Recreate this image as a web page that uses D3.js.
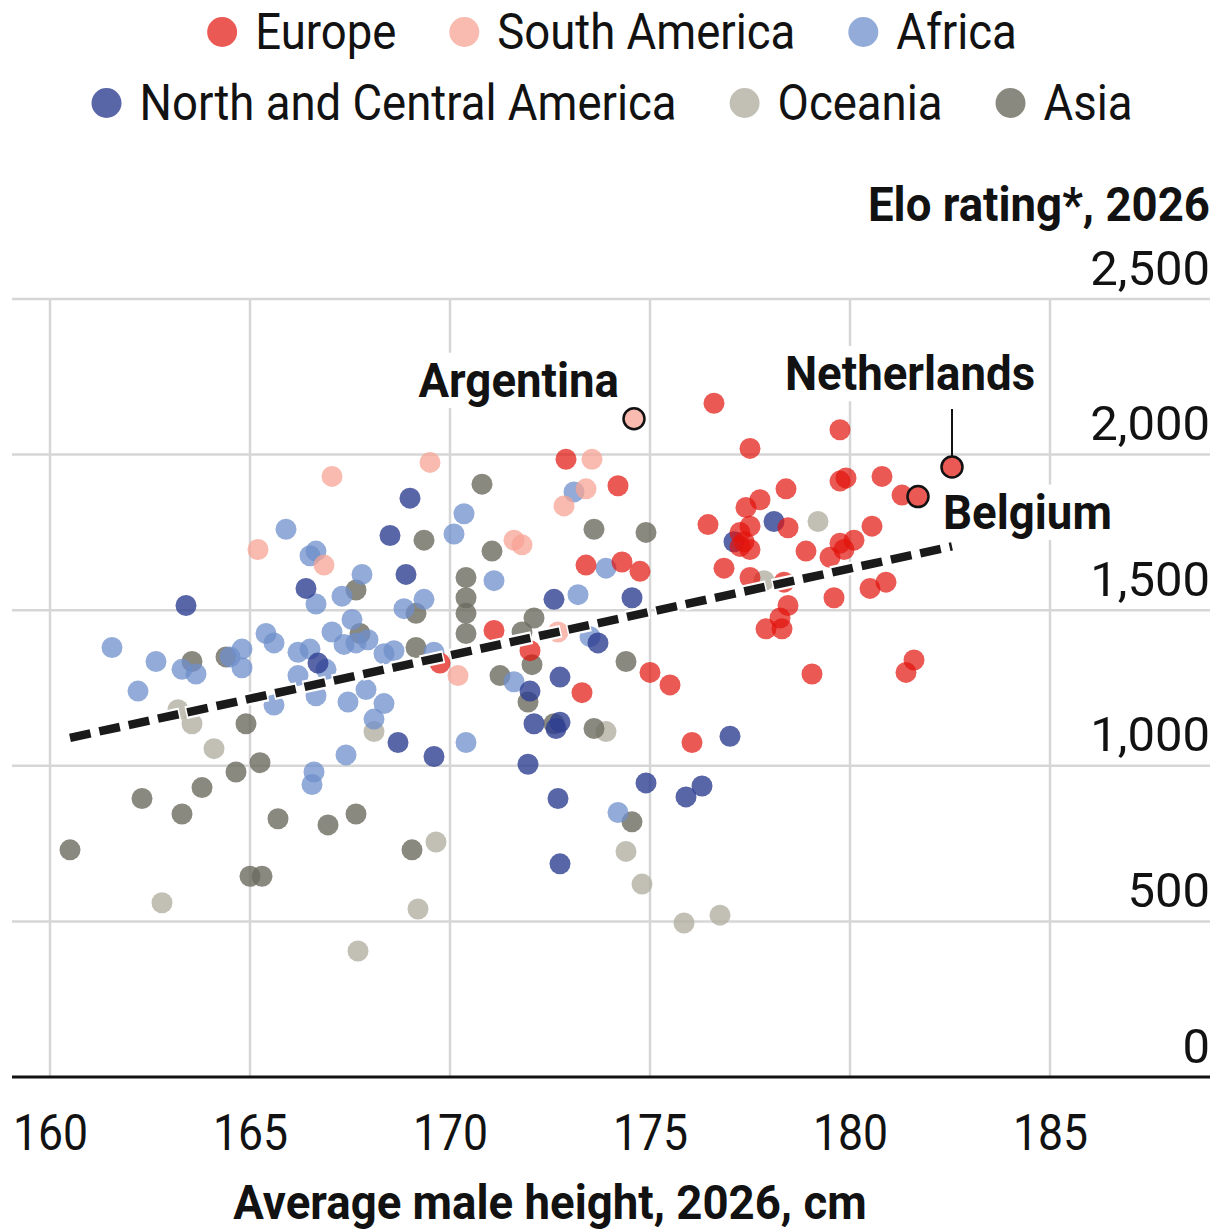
<!DOCTYPE html>
<html>
<head>
<meta charset="utf-8">
<script src="https://cdn.jsdelivr.net/npm/d3@7"></script>
<style>
body { margin: 0; background: #fff; }
text { font-family: Roboto, sans-serif; fill: #121212; }
</style>
</head>
<body>
<div id="chart"></div>
<script>
const width = 1225
const height = 1230
// squeeze Roboto so it reads like a condensed face
const SX = 0.91    // regular text
const SXB = 0.95   // bold text
const SXN = 1.0    // y tick numbers

const continents = ['Europe', 'South America', 'Africa', 'North and Central America', 'Oceania', 'Asia']
const colours = ['#e3120b', '#f7a394', '#6f8fcb', '#2e3f91', '#b3b0a2', '#6b6b5f']
const opacities = [0.7, 0.75, 0.75, 0.8, 0.8, 0.8]

// [average male height cm, Elo rating]
const europe = [[176.6,2165],[177.5,2020],[172.9,1985],[174.2,1900],[178.4,1890],[177.75,1855],[177.4,1830],[176.45,1775],[178.45,1765],[177.25,1750],[177.5,1770],[177.35,1720],[177.5,1695],[177.25,1705],[178.9,1690],[176.85,1635],[177.5,1605],[178.35,1590],[178.45,1515],[178.25,1475],[177.9,1440],[178.3,1440],[179.05,1295],[179.75,2080],[179.75,1915],[179.9,1925],[180.8,1930],[181.3,1870],[179.5,1670],[179.75,1715],[179.85,1695],[180.1,1725],[180.55,1770],[179.6,1540],[180.5,1570],[180.9,1590],[181.4,1300],[181.6,1340],[173.4,1645],[174.3,1655],[174.75,1625],[171.1,1435],[172.0,1370],[169.75,1330],[173.3,1235],[175.0,1300],[175.5,1260],[176.05,1075]]
const southAmerica = [[167.05,1930],[169.5,1975],[165.2,1695],[166.85,1645],[173.55,1985],[173.4,1890],[172.85,1835],[171.6,1725],[171.8,1710],[170.2,1290],[172.7,1430]]
const africa = [[165.9,1760],[166.5,1675],[166.65,1690],[167.8,1615],[166.65,1520],[167.3,1545],[168.85,1505],[169.35,1535],[167.55,1470],[167.05,1430],[167.35,1390],[167.65,1395],[167.95,1405],[165.4,1425],[165.6,1395],[161.55,1380],[162.65,1335],[163.3,1310],[163.65,1295],[164.5,1350],[164.8,1375],[164.8,1315],[166.2,1365],[166.5,1375],[168.35,1360],[168.6,1370],[166.2,1290],[166.9,1310],[169.6,1365],[170.1,1745],[170.35,1810],[162.2,1240],[166.65,1225],[165.6,1195],[167.45,1205],[167.9,1245],[168.35,1200],[168.1,1150],[170.4,1075],[167.4,1035],[166.6,980],[166.55,940],[171.1,1595],[173.1,1880],[173.9,1635],[173.2,1550],[173.5,1415],[171.6,1270],[174.2,850]]
const northCentralAmerica = [[169.0,1860],[168.5,1740],[168.9,1615],[166.4,1570],[163.4,1515],[166.7,1330],[172.6,1535],[174.55,1540],[173.7,1395],[172.0,1240],[172.75,1285],[172.1,1135],[172.75,1140],[172.65,1120],[177.0,1095],[169.6,1030],[168.7,1075],[171.95,1005],[174.9,945],[176.3,935],[175.9,900],[172.7,895],[172.75,685],[178.1,1785],[177.1,1720]]
const oceania = [[179.2,1785],[177.85,1595],[173.9,1110],[174.4,725],[174.8,620],[175.85,495],[176.75,520],[169.65,755],[169.2,540],[167.7,405],[162.8,560],[164.1,1055],[163.55,1135],[163.2,1180],[168.1,1110]]
const asia = [[170.8,1905],[171.05,1690],[169.35,1725],[167.65,1565],[169.15,1490],[169.15,1380],[167.75,1425],[170.4,1605],[170.4,1540],[170.4,1490],[170.4,1425],[163.55,1335],[164.4,1350],[173.6,1760],[174.9,1750],[172.1,1475],[171.8,1430],[172.05,1325],[174.4,1335],[171.25,1290],[171.95,1205],[172.6,1135],[173.6,1120],[174.55,820],[164.9,1135],[165.25,1010],[164.65,980],[163.8,930],[162.3,895],[163.3,845],[165.7,830],[166.95,810],[167.65,845],[169.05,730],[165.0,645],[165.3,645],[160.5,730]]

const highlights = [
    {name: 'Argentina', continent: 'South America', height: 174.6, elo: 2115},
    {name: 'Netherlands', continent: 'Europe', height: 182.55, elo: 1960},
    {name: 'Belgium', continent: 'Europe', height: 181.7, elo: 1865},
]

const trendHeights = [160.5, 182.55]
const trendElo = [1090, 1705]

const xTicks = [160, 165, 170, 175, 180, 185]
const yTicks = [0, 500, 1000, 1500, 2000, 2500]

const seriesByContinent = {
    'Europe': europe,
    'South America': southAmerica,
    'Africa': africa,
    'North and Central America': northCentralAmerica,
    'Oceania': oceania,
    'Asia': asia,
}
const drawOrder = ['Oceania', 'Asia', 'Africa', 'North and Central America', 'South America', 'Europe']

const colour = d3.scaleOrdinal().domain(continents).range(colours)
const opacity = d3.scaleOrdinal().domain(continents).range(opacities)
// the solid colour a translucent dot shows on white
const tint = name => d3.interpolateRgb('#ffffff', colour(name))(opacity(name))

const plotLeft = 12, plotRight = 1210
const x = d3.scaleLinear().domain([160, 185]).range([50, 1050])
const y = d3.scaleLinear().domain([0, 2500]).range([1077, 299])
const r = 10.5

const svg = d3.select('#chart').append('svg')
    .attr('width', width)
    .attr('height', height)

// gridlines
svg.append('g').selectAll('line')
    .data(yTicks.slice(1))
    .enter().append('line')
    .attr('x1', plotLeft).attr('x2', plotRight)
    .attr('y1', d => y(d)).attr('y2', d => y(d))
    .attr('stroke', '#d6d6d6').attr('stroke-width', 2.5)

svg.append('g').selectAll('line')
    .data(xTicks)
    .enter().append('line')
    .attr('x1', d => x(d)).attr('x2', d => x(d))
    .attr('y1', y(2500)).attr('y2', y(0))
    .attr('stroke', '#d6d6d6').attr('stroke-width', 2.5)

// y labels sit on top of the gridlines, right aligned
const yAxis = svg.append('g')
    .attr('transform', `translate(${plotRight},0)`)
    .call(d3.axisLeft(y).tickValues(yTicks).tickSize(0).tickFormat(d3.format(',')))
yAxis.select('.domain').remove()
yAxis.selectAll('text')
    .attr('x', 0).attr('y', -15).attr('dy', 0)
    .attr('transform', `scale(${SXN},1)`)
    .style('font-family', 'Roboto, sans-serif')
    .style('font-size', '49px')
    .attr('fill', '#121212')

svg.append('text')
    .attr('transform', `translate(${plotRight},221) scale(${SXB},1)`)
    .attr('text-anchor', 'end')
    .style('font-size', '48px')
    .style('font-weight', 700)
    .text('Elo rating*, 2026')

// points
drawOrder.forEach(function(name) {
    svg.append('g').selectAll('circle')
        .data(seriesByContinent[name])
        .enter().append('circle')
        .attr('cx', d => x(d[0]))
        .attr('cy', d => y(d[1]))
        .attr('r', r)
        .attr('fill', colour(name))
        .attr('fill-opacity', opacity(name))
})

// trend line, white halo under black dashes
const trend = d3.zip(trendHeights, trendElo)
const trendLine = d3.line().x(d => x(d[0])).y(d => y(d[1]))
svg.append('path')
    .attr('d', trendLine(trend))
    .attr('stroke', '#fff').attr('stroke-width', 13)
    .attr('stroke-dasharray', '24 6').attr('stroke-dashoffset', 1.5)
    .attr('fill', 'none')
svg.append('path')
    .attr('d', trendLine(trend))
    .attr('stroke', '#1a1a1a').attr('stroke-width', 8.5)
    .attr('stroke-dasharray', '21 9')
    .attr('fill', 'none')

// x axis
svg.append('line')
    .attr('x1', plotLeft).attr('x2', plotRight)
    .attr('y1', y(0)).attr('y2', y(0))
    .attr('stroke', '#121212').attr('stroke-width', 3)

const xAxis = svg.append('g')
    .attr('transform', `translate(0,${y(0)})`)
    .call(d3.axisBottom(x).tickValues(xTicks).tickSize(0))
xAxis.select('.domain').remove()
xAxis.selectAll('text')
    .attr('y', 73).attr('dy', 0)
    .attr('transform', `scale(0.89,1)`)
    .style('font-family', 'Roboto, sans-serif')
    .style('font-size', '50px')
    .attr('fill', '#121212')

svg.append('text')
    .attr('transform', `translate(550,1219) scale(${SXB},1)`)
    .attr('text-anchor', 'middle')
    .style('font-size', '48px')
    .style('font-weight', 700)
    .text('Average male height, 2026, cm')

// highlighted countries
const labelled = svg.append('g')
highlights.forEach(function(h) {
    const cx = x(h.height), cy = y(h.elo)
    let lx, ly, anchor
    if (h.name === 'Argentina') { lx = cx - 15; ly = cy - 22; anchor = 'end' }
    if (h.name === 'Netherlands') {
        lx = cx - 42; ly = cy - 77; anchor = 'middle'
        labelled.append('line')
            .attr('x1', cx).attr('x2', cx)
            .attr('y1', cy - 58).attr('y2', cy - r)
            .attr('stroke', '#121212').attr('stroke-width', 2)
    }
    if (h.name === 'Belgium') { lx = cx + 25; ly = cy + 32; anchor = 'start' }

    const g = labelled.append('g').attr('transform', `translate(${lx},${ly})`)
    g.append('text')
        .attr('transform', `scale(${SXB},1)`)
        .attr('text-anchor', anchor)
        .style('font-size', '48px')
        .style('font-weight', 700)
        .text(h.name)
    const bb = g.node().getBBox()
    g.insert('rect', 'text')
        .attr('x', bb.x - 4).attr('y', bb.y)
        .attr('width', bb.width + 8).attr('height', bb.height)
        .attr('fill', '#fff')

    labelled.append('circle')
        .attr('cx', cx).attr('cy', cy).attr('r', r)
        .attr('fill', tint(h.continent))
        .attr('stroke', '#121212').attr('stroke-width', 2.5)
})

// legend, two centred rows
const legendRows = [continents.slice(0, 3), continents.slice(3)]
const legendY = [32, 103]
const legend = svg.append('g')
legendRows.forEach(function(row, i) {
    const items = row.map(function(name) {
        const g = legend.append('g')
        g.append('circle')
            .attr('cx', 15).attr('cy', 0).attr('r', 15)
            .attr('fill', colour(name))
            .attr('fill-opacity', opacity(name))
        const t = g.append('text')
            .attr('transform', `translate(48,17) scale(${SX},1)`)
            .style('font-size', '50px')
            .text(name)
        return {g: g, w: 48 + t.node().getComputedTextLength() * SX}
    })
    const gap = 53
    const total = d3.sum(items, d => d.w) + gap * (items.length - 1)
    let pos = 612 - total / 2
    items.forEach(function(it) {
        it.g.attr('transform', `translate(${pos},${legendY[i]})`)
        pos += it.w + gap
    })
})
</script>
</body>
</html>
